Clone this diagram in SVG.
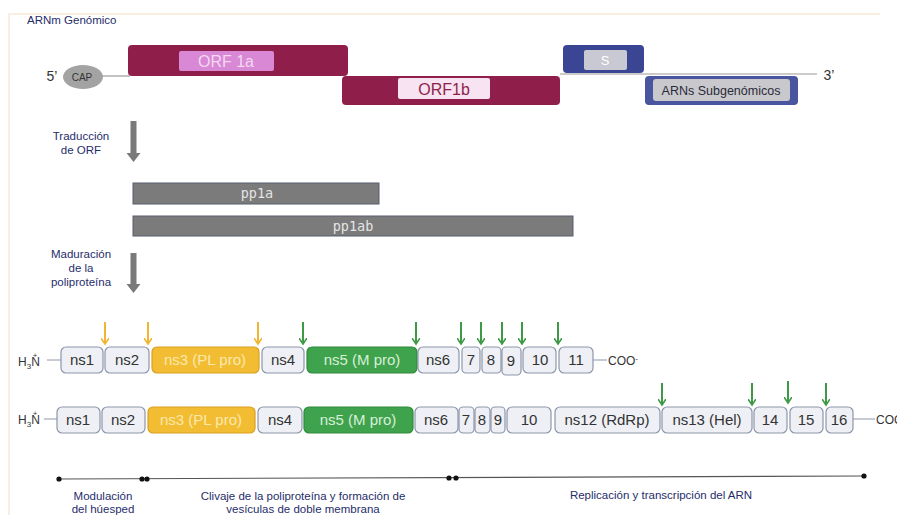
<svg xmlns="http://www.w3.org/2000/svg" width="897" height="515" viewBox="0 0 897 515">
  <defs>
    <style>
      .lbl { font-family: "Liberation Sans", Arial, sans-serif; fill: #1f2d6b; font-size: 11.5px; text-anchor: middle; }
      .box { fill: #eef0f5; stroke: #8d96ab; stroke-width: 1.2; }
      .bt { font-family: "Liberation Sans", Arial, sans-serif; font-size: 15px; fill: #333; text-anchor: middle; }
      .term { font-family: "Liberation Sans", Arial, sans-serif; font-size: 12px; fill: #333; }
      .pp { fill: #7b7b7b; stroke: #5a5f70; stroke-width: 1; }
      .ppt { font-family: "DejaVu Sans Mono", "Liberation Mono", monospace; font-size: 13.5px; fill: #e4e4e4; text-anchor: middle; }
      .ya { stroke: #f1b631; stroke-width: 2; fill: none; }
      .ga { stroke: #3f9a48; stroke-width: 2; fill: none; }
      .link { stroke: #8d96ab; stroke-width: 1; }
      .dot { fill: #111; }
    </style>
    <!-- open arrowheads drawn along +x so orient="auto" turns them down the line -->
    <marker id="hy" markerWidth="8" markerHeight="8" refX="6" refY="4" orient="auto" markerUnits="userSpaceOnUse" viewBox="0 0 8 8">
      <path d="M0,0 L6,4 L0,8" fill="none" stroke="#f1b631" stroke-width="1.6"/>
    </marker>
    <marker id="hg" markerWidth="8" markerHeight="8" refX="6" refY="4" orient="auto" markerUnits="userSpaceOnUse" viewBox="0 0 8 8">
      <path d="M0,0 L6,4 L0,8" fill="none" stroke="#3f9a48" stroke-width="1.6"/>
    </marker>
  </defs>

  <rect width="897" height="515" fill="#ffffff"/>
  <!-- faint frame -->
  <path d="M9,515 L9,14 L880,14" fill="none" stroke="#fbeee0" stroke-width="2"/>

  <!-- genome -->
  <g id="genome">
    <text x="27" y="24" class="lbl" style="text-anchor:start">ARNm Genómico</text>
    <line x1="100" y1="76" x2="130" y2="76" stroke="#9a9a9a" stroke-width="1.2"/>
    <line x1="560" y1="74" x2="817" y2="74" stroke="#9a9a9a" stroke-width="1.2"/>
    <text x="52" y="81" font-family="Liberation Sans, Arial, sans-serif" font-size="14" fill="#333" text-anchor="middle">5’</text>
    <text x="829" y="80" font-family="Liberation Sans, Arial, sans-serif" font-size="14" fill="#333" text-anchor="middle">3’</text>
  </g>
  <g id="cap">
    <ellipse cx="83" cy="77" rx="20" ry="12" fill="#a3a3a3"/>
    <text x="82" y="81" font-family="Liberation Sans, Arial, sans-serif" font-size="10" fill="#333" text-anchor="middle">CAP</text>
  </g>
  <g id="orf1a">
    <rect x="128" y="45" width="220" height="31" rx="4" fill="#8f1f4a"/>
    <rect x="179" y="51" width="95" height="20" rx="2" fill="#d888d4"/>
    <text x="226" y="67" font-family="Liberation Sans, Arial, sans-serif" font-size="16" fill="#f4d8f2" text-anchor="middle">ORF 1a</text>
  </g>
  <g id="orf1b">
    <rect x="342" y="76" width="218" height="29" rx="4" fill="#8f1f4a"/>
    <rect x="398" y="78" width="92" height="21" rx="2" fill="#f7e3f2"/>
    <text x="444" y="95" font-family="Liberation Sans, Arial, sans-serif" font-size="16" fill="#8f1f4a" text-anchor="middle">ORF1b</text>
  </g>
  <g id="s">
    <rect x="563" y="45" width="81" height="28" rx="4" fill="#3a4594"/>
    <rect x="584" y="50" width="43" height="20" rx="2" fill="#c8c9d2"/>
    <text x="605" y="65" font-family="Liberation Sans, Arial, sans-serif" font-size="13" fill="#ffffff" text-anchor="middle">S</text>
  </g>
  <g id="subgenomic">
    <rect x="645" y="76" width="153" height="29" rx="4" fill="#4a559f"/>
    <rect x="653" y="79" width="137" height="22" rx="3" fill="#c9c9cd"/>
    <text x="721" y="95" font-family="Liberation Sans, Arial, sans-serif" font-size="12.5" fill="#2a2a3a" text-anchor="middle">ARNs Subgenómicos</text>
  </g>

  <!-- translation step -->
  <g id="traduccion">
    <text class="lbl" x="81" y="140">Traducción</text>
    <text class="lbl" x="81" y="154">de ORF</text>
  </g>
  <g id="pp1a">
    <rect class="pp" x="133" y="183" width="246" height="21"/>
    <text class="ppt" x="257" y="198">pp1a</text>
  </g>
  <g id="pp1ab">
    <rect class="pp" x="133" y="216" width="440" height="20"/>
    <text class="ppt" x="353" y="231">pp1ab</text>
  </g>
  <g id="maduracion">
    <text class="lbl" x="81" y="258">Maduración</text>
    <text class="lbl" x="81" y="272">de la</text>
    <text class="lbl" x="81" y="286">poliproteína</text>
  </g>

  <!-- pp1a products -->
  <g id="row1">
    <text x="18" y="366" class="term">H<tspan font-size="8" dy="3">3</tspan><tspan dy="-3">N</tspan><tspan font-size="8" dx="-7" dy="-8">+</tspan></text>
    <line class="link" x1="47" y1="360" x2="61" y2="360"/>
    <line class="link" x1="593" y1="360" x2="607" y2="360"/>
    <text x="608" y="365" class="term">COO<tspan font-size="8" dy="-4">-</tspan></text>
    <g id="r1-ns1"><rect class="box" x="61" y="347" width="42" height="26" rx="5"/><text class="bt" x="82" y="365">ns1</text></g>
    <g id="r1-ns2"><rect class="box" x="105" y="347" width="44" height="26" rx="5"/><text class="bt" x="127" y="365">ns2</text></g>
    <g id="r1-ns3"><rect x="152" y="347" width="107" height="26" rx="5" fill="#f2bd33" stroke="#d9a020" stroke-width="1.2"/><text class="bt" x="205" y="365" style="fill:#fbe8ac">ns3 (PL pro)</text></g>
    <g id="r1-ns4"><rect class="box" x="262" y="347" width="42" height="26" rx="5"/><text class="bt" x="283" y="365">ns4</text></g>
    <g id="r1-ns5"><rect x="307" y="347" width="110" height="26" rx="5" fill="#3fa34d" stroke="#2f8a3c" stroke-width="1.2"/><text class="bt" x="362" y="365" style="fill:#d8efd8">ns5 (M pro)</text></g>
    <g id="r1-ns6"><rect class="box" x="418" y="347" width="41" height="26" rx="5"/><text class="bt" x="438" y="365">ns6</text></g>
    <g id="r1-7"><rect class="box" x="462" y="347" width="18" height="26" rx="4"/><text class="bt" x="471" y="365">7</text></g>
    <g id="r1-8"><rect class="box" x="482" y="347" width="19" height="26" rx="4"/><text class="bt" x="491" y="365">8</text></g>
    <g id="r1-9"><rect class="box" x="502" y="347" width="19" height="28" rx="4"/><text class="bt" x="511" y="366">9</text></g>
    <g id="r1-10"><rect class="box" x="523" y="347" width="33" height="26" rx="5"/><text class="bt" x="540" y="365">10</text></g>
    <g id="r1-11"><rect class="box" x="559" y="347" width="34" height="26" rx="5"/><text class="bt" x="576" y="365">11</text></g>
  </g>

  <!-- pp1ab products -->
  <g id="row2">
    <text x="18" y="424" class="term">H<tspan font-size="8" dy="3">3</tspan><tspan dy="-3">N</tspan><tspan font-size="8" dx="-7" dy="-8">+</tspan></text>
    <line class="link" x1="44" y1="419" x2="57" y2="419"/>
    <line class="link" x1="853" y1="419" x2="875" y2="419"/>
    <text x="876" y="424" class="term">COO</text>
    <g id="r2-ns1"><rect class="box" x="57" y="407" width="43" height="26" rx="5"/><text class="bt" x="78" y="425">ns1</text></g>
    <g id="r2-ns2"><rect class="box" x="102" y="407" width="43" height="26" rx="5"/><text class="bt" x="123" y="425">ns2</text></g>
    <g id="r2-ns3"><rect x="148" y="407" width="107" height="26" rx="5" fill="#f2bd33" stroke="#d9a020" stroke-width="1.2"/><text class="bt" x="201" y="425" style="fill:#fbe8ac">ns3 (PL pro)</text></g>
    <g id="r2-ns4"><rect class="box" x="258" y="407" width="44" height="26" rx="5"/><text class="bt" x="280" y="425">ns4</text></g>
    <g id="r2-ns5"><rect x="304" y="407" width="109" height="26" rx="5" fill="#3fa34d" stroke="#2f8a3c" stroke-width="1.2"/><text class="bt" x="358" y="425" style="fill:#d8efd8">ns5 (M pro)</text></g>
    <g id="r2-ns6"><rect class="box" x="415" y="407" width="43" height="26" rx="5"/><text class="bt" x="436" y="425">ns6</text></g>
    <g id="r2-7"><rect class="box" x="459" y="407" width="15" height="26" rx="4"/><text class="bt" x="466" y="425">7</text></g>
    <g id="r2-8"><rect class="box" x="475" y="407" width="15" height="26" rx="4"/><text class="bt" x="482" y="425">8</text></g>
    <g id="r2-9"><rect class="box" x="491" y="407" width="14" height="26" rx="4"/><text class="bt" x="498" y="425">9</text></g>
    <g id="r2-10"><rect class="box" x="507" y="407" width="44" height="26" rx="5"/><text class="bt" x="529" y="425">10</text></g>
    <g id="r2-ns12"><rect class="box" x="555" y="407" width="105" height="26" rx="5"/><text class="bt" x="607" y="425">ns12 (RdRp)</text></g>
    <g id="r2-ns13"><rect class="box" x="662" y="407" width="90" height="26" rx="5"/><text class="bt" x="707" y="425">ns13 (Hel)</text></g>
    <g id="r2-14"><rect class="box" x="754" y="407" width="33" height="26" rx="5"/><text class="bt" x="770" y="425">14</text></g>
    <g id="r2-15"><rect class="box" x="790" y="407" width="33" height="26" rx="5"/><text class="bt" x="806" y="425">15</text></g>
    <g id="r2-16"><rect class="box" x="826" y="407" width="27" height="26" rx="5"/><text class="bt" x="839" y="425">16</text></g>
  </g>

  <!-- arrows -->
  <g id="connectors">
    <g id="step-arrows" fill="#7a7a7a">
      <path d="M130.5,121 L136.5,121 L136.5,153 L140.5,153 L133.5,162 L126.5,153 L130.5,153 Z"/>
      <path d="M130.5,253 L136.5,253 L136.5,284 L140.5,284 L133.5,293 L126.5,284 L130.5,284 Z"/>
    </g>
    <g id="cleavage-plpro">
      <line class="ya" x1="105" y1="322" x2="105" y2="344" marker-end="url(#hy)"/>
      <line class="ya" x1="148" y1="322" x2="148" y2="344" marker-end="url(#hy)"/>
      <line class="ya" x1="258" y1="322" x2="258" y2="344" marker-end="url(#hy)"/>
    </g>
    <g id="cleavage-mpro">
      <line class="ga" x1="303" y1="322" x2="303" y2="344" marker-end="url(#hg)"/>
      <line class="ga" x1="416" y1="322" x2="416" y2="344" marker-end="url(#hg)"/>
      <line class="ga" x1="461" y1="322" x2="461" y2="344" marker-end="url(#hg)"/>
      <line class="ga" x1="481" y1="322" x2="481" y2="344" marker-end="url(#hg)"/>
      <line class="ga" x1="502" y1="322" x2="502" y2="344" marker-end="url(#hg)"/>
      <line class="ga" x1="522" y1="322" x2="522" y2="344" marker-end="url(#hg)"/>
      <line class="ga" x1="558" y1="322" x2="558" y2="344" marker-end="url(#hg)"/>
      <line class="ga" x1="662" y1="383" x2="662" y2="405" marker-end="url(#hg)"/>
      <line class="ga" x1="752" y1="383" x2="752" y2="405" marker-end="url(#hg)"/>
      <line class="ga" x1="788" y1="381" x2="788" y2="403" marker-end="url(#hg)"/>
      <line class="ga" x1="826" y1="383" x2="826" y2="405" marker-end="url(#hg)"/>
    </g>
  </g>

  <!-- functional timeline -->
  <g id="timeline">
    <line x1="59" y1="479" x2="864" y2="476" stroke="#555" stroke-width="1.2"/>
    <circle class="dot" cx="59" cy="479" r="2.6"/>
    <circle class="dot" cx="142" cy="479" r="2.6"/>
    <circle class="dot" cx="147" cy="479" r="2.6"/>
    <circle class="dot" cx="449" cy="478" r="2.6"/>
    <circle class="dot" cx="456" cy="478" r="2.6"/>
    <circle class="dot" cx="864" cy="476" r="2.6"/>
  </g>
  <g id="modulacion">
    <text class="lbl" x="103" y="500">Modulación</text>
    <text class="lbl" x="103" y="513">del húesped</text>
  </g>
  <g id="clivaje">
    <text class="lbl" x="303" y="500">Clivaje de la poliproteína y formación de</text>
    <text class="lbl" x="303" y="513">vesículas de doble membrana</text>
  </g>
  <g id="replicacion">
    <text class="lbl" x="661" y="499">Replicación y transcripción del ARN</text>
  </g>
</svg>
